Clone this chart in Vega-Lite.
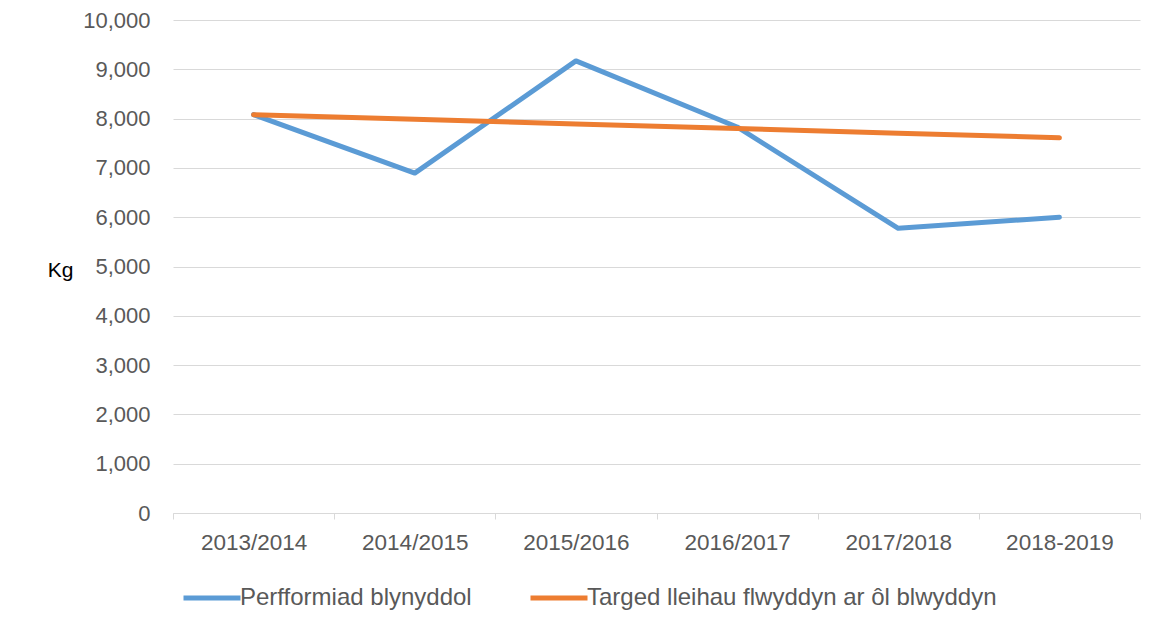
{
  "$schema": "https://vega.github.io/schema/vega-lite/v6.json",
  "width": 967,
  "height": 493,
  "autosize": {"type": "none"},
  "padding": {"left": 173, "top": 20, "right": 17, "bottom": 116},
  "config": {
    "view": {"stroke": null},
    "font": "Liberation Sans",
    "axis": {"labelColor": "#595959", "labelFont": "Liberation Sans"},
    "legend": {"labelFont": "Liberation Sans"}
  },
  "data": {
    "values": [
      {"year": "2013/2014", "series": "Perfformiad blynyddol", "kg": 8080},
      {"year": "2014/2015", "series": "Perfformiad blynyddol", "kg": 6895},
      {"year": "2015/2016", "series": "Perfformiad blynyddol", "kg": 9170},
      {"year": "2016/2017", "series": "Perfformiad blynyddol", "kg": 7830},
      {"year": "2017/2018", "series": "Perfformiad blynyddol", "kg": 5775},
      {"year": "2018-2019", "series": "Perfformiad blynyddol", "kg": 6000},
      {"year": "2013/2014", "series": "Targed lleihau flwyddyn ar ôl blwyddyn", "kg": 8080},
      {"year": "2014/2015", "series": "Targed lleihau flwyddyn ar ôl blwyddyn", "kg": 7985},
      {"year": "2015/2016", "series": "Targed lleihau flwyddyn ar ôl blwyddyn", "kg": 7890},
      {"year": "2016/2017", "series": "Targed lleihau flwyddyn ar ôl blwyddyn", "kg": 7800},
      {"year": "2017/2018", "series": "Targed lleihau flwyddyn ar ôl blwyddyn", "kg": 7705},
      {"year": "2018-2019", "series": "Targed lleihau flwyddyn ar ôl blwyddyn", "kg": 7610}
    ]
  },
  "mark": {"type": "line", "strokeWidth": 5, "strokeCap": "round", "strokeJoin": "round"},
  "encoding": {
    "x": {
      "field": "year",
      "type": "nominal",
      "sort": null,
      "scale": {"type": "band", "paddingInner": 0, "paddingOuter": 0},
      "axis": {
        "title": null,
        "labelAngle": 0,
        "tickBand": "extent",
        "domainColor": "#d9d9d9",
        "tickColor": "#d9d9d9",
        "tickSize": 6,
        "labelFontSize": 22.5,
        "labelPadding": 12,
        "grid": false
      }
    },
    "y": {
      "field": "kg",
      "type": "quantitative",
      "scale": {"domain": [0, 10000]},
      "axis": {
        "values": [0, 1000, 2000, 3000, 4000, 5000, 6000, 7000, 8000, 9000, 10000],
        "format": ",.0f",
        "domain": false,
        "ticks": false,
        "gridColor": "#d9d9d9",
        "labelFontSize": 22,
        "labelPadding": 23,
        "title": "Kg",
        "titleAngle": 0,
        "titleX": -113,
        "titleY": 250,
        "titleAlign": "center",
        "titleBaseline": "middle",
        "titleFontWeight": "normal",
        "titleFontSize": 21,
        "titleColor": "#000000",
        "titleFont": "Liberation Sans"
      }
    },
    "color": {
      "field": "series",
      "type": "nominal",
      "scale": {
        "domain": ["Perfformiad blynyddol", "Targed lleihau flwyddyn ar ôl blwyddyn"],
        "range": ["#5b9bd5", "#ed7d31"]
      },
      "legend": {
        "title": null,
        "orient": "none",
        "direction": "horizontal",
        "legendX": 8,
        "legendY": 547,
        "symbolType": "stroke",
        "symbolSize": 3249,
        "symbolStrokeWidth": 5,
        "labelFontSize": 24,
        "labelColor": "#595959",
        "labelOffset": -3,
        "columnPadding": 48,
        "labelLimit": 600
      }
    }
  }
}
